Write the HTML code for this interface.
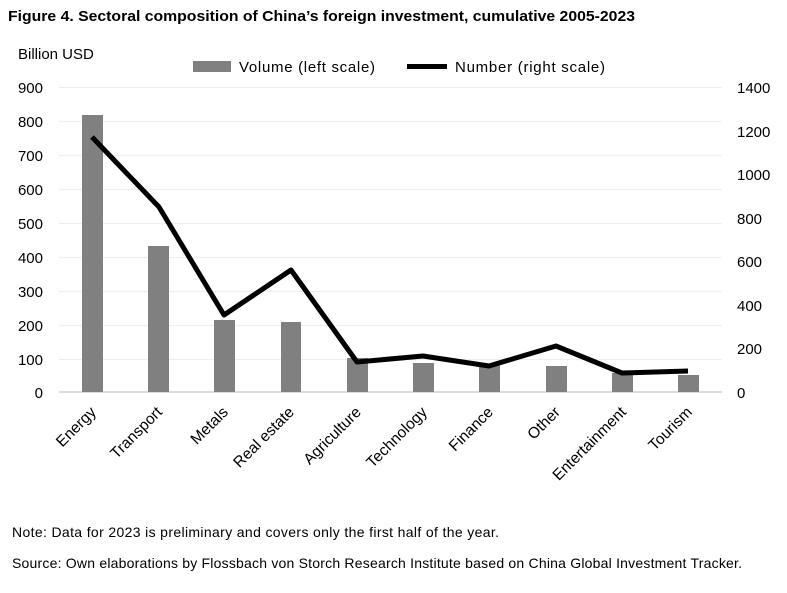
<!DOCTYPE html>
<html><head><meta charset="utf-8"><style>
body{margin:0;background:#fff;}
svg{display:block;font-family:"Liberation Sans",sans-serif;}
</style></head><body>
<svg width="787" height="593" viewBox="0 0 787 593" xmlns="http://www.w3.org/2000/svg">
<rect width="787" height="593" fill="#fff"/>
<text x="8" y="21" font-size="15" font-weight="bold" fill="#000" textLength="627" lengthAdjust="spacingAndGlyphs">Figure 4. Sectoral composition of China’s foreign investment, cumulative 2005-2023</text>
<text x="18" y="59" font-size="15" fill="#000">Billion USD</text>
<rect x="193" y="61" width="38" height="11" fill="#808080"/>
<text x="239" y="72" font-size="15" textLength="136">Volume (left scale)</text>
<line x1="407" y1="66.5" x2="447" y2="66.5" stroke="#000" stroke-width="5"/>
<text x="455" y="72" font-size="15" textLength="150">Number (right scale)</text>
<g stroke="#efefef" stroke-width="1.3">
<line x1="59" x2="722" y1="87.5" y2="87.5"/><line x1="59" x2="722" y1="121.5" y2="121.5"/>
<line x1="59" x2="722" y1="155.5" y2="155.5"/><line x1="59" x2="722" y1="189.5" y2="189.5"/>
<line x1="59" x2="722" y1="223.5" y2="223.5"/><line x1="59" x2="722" y1="257.5" y2="257.5"/>
<line x1="59" x2="722" y1="291.5" y2="291.5"/><line x1="59" x2="722" y1="325.5" y2="325.5"/>
<line x1="59" x2="722" y1="359.5" y2="359.5"/>
</g>
<line x1="59" x2="722" y1="392" y2="392" stroke="#d0d0d0" stroke-width="1.5"/>
<g font-size="15" text-anchor="end" fill="#000">
<text x="43" y="93">900</text><text x="43" y="127">800</text><text x="43" y="161">700</text>
<text x="43" y="195">600</text><text x="43" y="229">500</text><text x="43" y="263">400</text>
<text x="43" y="297">300</text><text x="43" y="331">200</text><text x="43" y="365">100</text>
<text x="43" y="398">0</text>
</g>
<g font-size="15" fill="#000">
<text x="737" y="93">1400</text><text x="737" y="137">1200</text><text x="737" y="180">1000</text>
<text x="737" y="224">800</text><text x="737" y="267">600</text><text x="737" y="311">400</text>
<text x="737" y="354">200</text><text x="737" y="398">0</text>
</g>
<g fill="#808080">
<rect x="82" y="115" width="21" height="277"/>
<rect x="148" y="246" width="21" height="146"/>
<rect x="214" y="320" width="21" height="72"/>
<rect x="281" y="322" width="20" height="70"/>
<rect x="347" y="358" width="21" height="34"/>
<rect x="413" y="363" width="21" height="29"/>
<rect x="479" y="365" width="21" height="27"/>
<rect x="546" y="366" width="21" height="26"/>
<rect x="612" y="373" width="21" height="19"/>
<rect x="678" y="375" width="21" height="17"/>
</g>
<polyline points="92,137 159,207 224,315 291,270 357,362 423,356 489,366 556,346 622,373 688,371" fill="none" stroke="#000" stroke-width="5" stroke-linejoin="round"/>
<g font-size="15.5" text-anchor="end" fill="#000">
<text transform="translate(97,413) rotate(-45)">Energy</text>
<text transform="translate(163,413) rotate(-45)">Transport</text>
<text transform="translate(229,413) rotate(-45)">Metals</text>
<text transform="translate(295,413) rotate(-45)">Real estate</text>
<text transform="translate(362,413) rotate(-45)">Agriculture</text>
<text transform="translate(428,413) rotate(-45)">Technology</text>
<text transform="translate(494,413) rotate(-45)">Finance</text>
<text transform="translate(561,413) rotate(-45)">Other</text>
<text transform="translate(627,413) rotate(-45)">Entertainment</text>
<text transform="translate(693,413) rotate(-45)">Tourism</text>
</g>
<text x="12" y="537" font-size="14" textLength="487">Note: Data for 2023 is preliminary and covers only the first half of the year.</text>
<text x="12" y="568" font-size="14" textLength="730">Source: Own elaborations by Flossbach von Storch Research Institute based on China Global Investment Tracker.</text>
</svg>
</body></html>
